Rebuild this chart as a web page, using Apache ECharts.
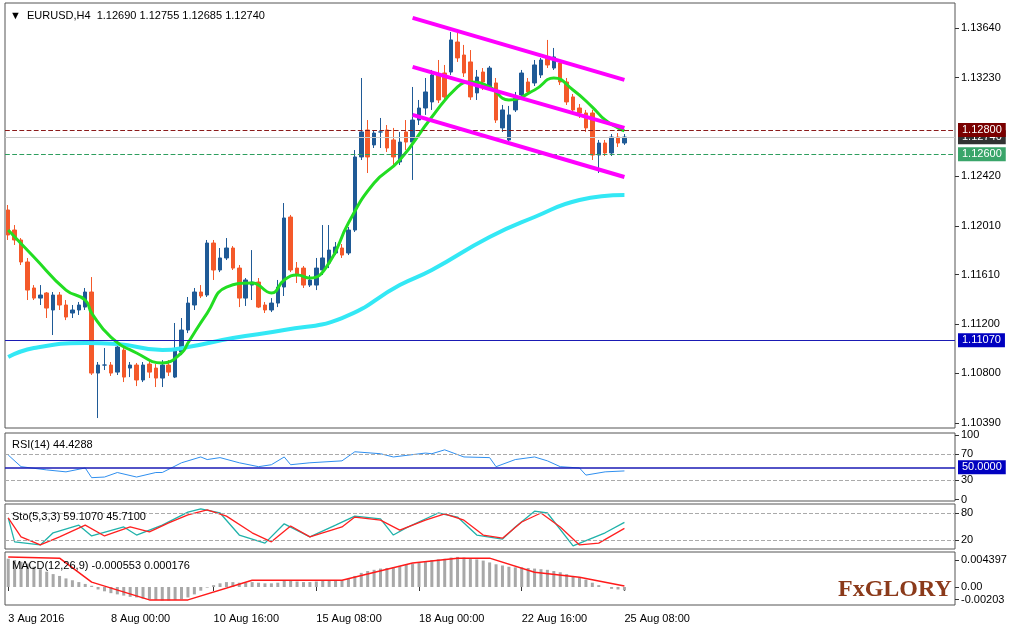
<!DOCTYPE html>
<html><head><meta charset="utf-8">
<script src="https://cdn.jsdelivr.net/npm/echarts@6/dist/echarts.min.js"></script>
<style>html,body{margin:0;padding:0;background:#fff}#c{width:1024px;height:636px}</style>
</head><body><div id="c"></div>
<script>
// ---- DATA ----
const tickLabels = ["3 Aug 2016","8 Aug 00:00","10 Aug 16:00","15 Aug 08:00","18 Aug 00:00","22 Aug 16:00","25 Aug 08:00"];
const tickIndex = [0,16,32,48,64,80,96];
const opens = [1.12142,1.11977,1.11895,1.11714,1.11500,1.11417,1.11459,1.11319,1.11442,1.11360,1.11294,1.11319,1.11343,1.11467,1.10800,1.10866,1.10866,1.10808,1.10989,1.10841,1.10866,1.10743,1.10874,1.10841,1.10759,1.10866,1.10767,1.10973,1.11154,1.11360,1.11467,1.11442,1.11870,1.11648,1.11747,1.11829,1.11664,1.11417,1.11524,1.11549,1.11360,1.11319,1.11376,1.11508,1.12084,1.11664,1.11664,1.11524,1.11524,1.11648,1.11706,1.11788,1.11829,1.11788,1.11977,1.12578,1.12800,1.12677,1.12784,1.12800,1.12718,1.12537,1.12784,1.12701,1.12882,1.12981,1.13031,1.13253,1.13269,1.13277,1.13524,1.13417,1.13360,1.13105,1.13277,1.13154,1.13187,1.12817,1.12718,1.12965,1.13088,1.13195,1.13187,1.13253,1.13393,1.13310,1.13352,1.13195,1.13072,1.12981,1.12940,1.12940,1.12594,1.12693,1.12611,1.12742,1.12693];
const closes = [1.11936,1.11895,1.11714,1.11483,1.11417,1.11442,1.11335,1.11442,1.11360,1.11261,1.11319,1.11360,1.11467,1.10800,1.10866,1.10866,1.10800,1.11014,1.10767,1.10866,1.10743,1.10866,1.10808,1.10759,1.10866,1.10808,1.10989,1.11154,1.11376,1.11467,1.11434,1.11870,1.11648,1.11747,1.11829,1.11664,1.11417,1.11566,1.11549,1.11343,1.11319,1.11376,1.11508,1.12076,1.11648,1.11607,1.11524,1.11566,1.11664,1.11747,1.11812,1.11837,1.11771,1.11977,1.12578,1.12784,1.12578,1.12775,1.12784,1.12652,1.12578,1.12701,1.12701,1.12882,1.12981,1.13113,1.13253,1.13047,1.13072,1.13541,1.13393,1.13269,1.13072,1.13236,1.13195,1.13310,1.12882,1.12965,1.12924,1.13063,1.13269,1.13113,1.13335,1.13376,1.13335,1.13401,1.13195,1.13031,1.12965,1.12940,1.12817,1.12594,1.12693,1.12611,1.12742,1.12693,1.12742];
const highs = [1.12183,1.12018,1.11911,1.11747,1.11524,1.11524,1.11467,1.11467,1.11467,1.11401,1.11360,1.11385,1.11500,1.11590,1.10891,1.11006,1.10891,1.11031,1.11006,1.10891,1.10883,1.10891,1.10907,1.10874,1.10907,1.10907,1.11212,1.11253,1.11426,1.11500,1.11524,1.11895,1.11895,1.11829,1.11911,1.11845,1.11689,1.11582,1.11812,1.11582,1.11385,1.11417,1.11566,1.12199,1.12101,1.11714,1.11681,1.11607,1.11747,1.12018,1.12018,1.11878,1.11862,1.12002,1.12635,1.13228,1.12882,1.12800,1.12899,1.12841,1.12817,1.12784,1.12882,1.13154,1.13047,1.13228,1.13294,1.13376,1.13335,1.13607,1.13623,1.13500,1.13458,1.13294,1.13310,1.13327,1.13228,1.13006,1.12998,1.13113,1.13294,1.13228,1.13376,1.13393,1.13541,1.13475,1.13376,1.13228,1.13096,1.13014,1.12965,1.12965,1.12718,1.12718,1.12767,1.12775,1.12767];
const lows = [1.11895,1.11854,1.11689,1.11401,1.11401,1.11360,1.11253,1.11113,1.11319,1.11236,1.11253,1.11278,1.11319,1.10784,1.10430,1.10825,1.10776,1.10784,1.10726,1.10767,1.10693,1.10726,1.10759,1.10685,1.10685,1.10776,1.10759,1.10948,1.11129,1.11319,1.11417,1.11426,1.11566,1.11631,1.11730,1.11648,1.11343,1.11352,1.11401,1.11335,1.11294,1.11302,1.11343,1.11434,1.11631,1.11541,1.11500,1.11508,1.11483,1.11607,1.11664,1.11771,1.11747,1.11771,1.11961,1.12553,1.12446,1.12652,1.12652,1.12619,1.12512,1.12512,1.12635,1.12389,1.12841,1.12924,1.12965,1.13022,1.13047,1.13253,1.13360,1.13236,1.13047,1.13047,1.13129,1.13129,1.12858,1.12784,1.12693,1.12948,1.13063,1.13088,1.13162,1.13228,1.13310,1.13294,1.13170,1.13006,1.12948,1.12899,1.12784,1.12553,1.12446,1.12586,1.12586,1.12660,1.12677];
const maFast = [[0,1.11977],[4,1.11755],[9,1.11483],[12,1.11401],[13,1.11294],[16,1.11096],[20,1.10965],[24,1.10883],[27,1.10965],[28,1.11047],[31,1.11294],[34,1.11508],[38,1.11541],[41,1.11459],[43,1.11566],[45,1.11607],[47,1.11582],[50,1.11706],[53,1.12035],[57,1.12364],[61,1.12553],[66,1.12907],[70,1.13154],[72,1.13195],[75,1.13154],[78,1.13047],[82,1.13129],[85,1.13228],[88,1.13129],[91,1.12989],[93,1.12882],[95,1.12817],[96,1.12792]];
const maSlow = [[0,1.10932],[4,1.11006],[12,1.11047],[17,1.11039],[24,1.10989],[28,1.11014],[35,1.11088],[43,1.11154],[52,1.11253],[61,1.11524],[66,1.11648],[75,1.11920],[82,1.12084],[89,1.12224],[96,1.12265]];
const chanUpper = [[63,1.13722],[96,1.13212]];
const chanMiddle = [[63,1.13319],[96,1.12817]];
const chanLower = [[63,1.12924],[96,1.12413]];
const priceTicks = [1.10390,1.10800,1.11200,1.11610,1.12010,1.12420,1.13230,1.13640];
const rsi = [[0,69],[2,51],[6,46],[9,43],[12,49],[13,34],[15,35],[17,42],[20,35],[23,42],[24,42],[27,57],[30,66],[31,62],[33,65],[36,57],[39,51],[41,54],[43,66],[44,54],[47,57],[52,60],[54,74],[58,71],[60,66],[65,72],[66,71],[68,77],[71,66],[75,65],[76,51],[79,62],[82,66],[84,60],[86,51],[89,49],[90,38],[93,43],[96,44.43]];
const stoMain = [[0,69],[1,16],[5,9],[7,36],[11,53],[13,29],[18,49],[20,31],[24,53],[28,82],[30,89],[33,80],[36,31],[40,13],[43,56],[47,27],[51,53],[54,73],[58,67],[60,31],[62,47],[67,80],[70,71],[73,31],[77,22],[79,49],[82,84],[84,80],[88,7],[93,36],[96,59.1]];
const stoSignal = [[0,69],[2,27],[5,9],[8,27],[12,53],[15,29],[19,49],[22,38],[25,58],[28,76],[31,87],[34,73],[38,36],[41,16],[44,51],[47,27],[52,49],[54,71],[58,64],[61,42],[65,64],[68,78],[71,64],[74,31],[77,24],[80,60],[83,80],[86,49],[89,9],[92,13],[96,45.7]];
const macdHist = [0.0046,0.0044,0.0041,0.0038,0.0033,0.0029,0.0025,0.0021,0.0018,0.0014,0.0011,0.0008,0.0005,0.0002,-0.0004,-0.0007,-0.0010,-0.0012,-0.0014,-0.0016,-0.0017,-0.0019,-0.0020,-0.0021,-0.0022,-0.0022,-0.0021,-0.0020,-0.0017,-0.0012,-0.0006,-0.0001,0.0003,0.0006,0.0008,0.0008,0.0007,0.0007,0.0008,0.0007,0.0006,0.0006,0.0007,0.0010,0.0010,0.0009,0.0008,0.0008,0.0009,0.0010,0.0011,0.0011,0.0011,0.0013,0.0018,0.0023,0.0026,0.0028,0.0030,0.0031,0.0032,0.0034,0.0036,0.0038,0.0040,0.0042,0.0044,0.0045,0.0046,0.0048,0.0049,0.0048,0.0046,0.0045,0.0043,0.0040,0.0037,0.0035,0.0033,0.0032,0.0032,0.0031,0.0030,0.0029,0.0028,0.0026,0.0024,0.0021,0.0018,0.0015,0.0012,0.0007,0.0003,0.0000,-0.0003,-0.0004,-0.00055];
const macdSignal = [[0,0.0049],[8,0.0047],[13,0.0008],[22,-0.0021],[28,-0.0021],[38,0.0011],[52,0.0011],[63,0.0039],[70,0.0047],[75,0.0047],[82,0.0024],[89,0.0016],[96,0.000176]];
const levels = [
  {v:1.12740, color:'#c8c8c8', type:'solid', bg:'#333333'},
  {v:1.12800, color:'#8b1a1a', type:'dashed', bg:'#7a0000'},
  {v:1.12600, color:'#2e9e5e', type:'dashed', bg:'#3aa56a'},
  {v:1.11070, color:'#1a1ab4', type:'solid', bg:'#0000c0'}
];

// ---- CHART ----
const N = 148;
const cats = [];
for (let i = 0; i < N; i++) { const k = tickIndex.indexOf(i); cats.push(k >= 0 ? tickLabels[k] : ''); }
const ohlc = opens.map((o, i) => [o, closes[i], lows[i], highs[i]]);
const F = 'Liberation Sans';
const grids = [
  {left:5,right:69,top:3,height:425},
  {left:5,right:69,top:433,height:68},
  {left:5,right:69,top:504,height:45},
  {left:5,right:69,top:552,height:53}
].map(g => Object.assign({show:true,borderColor:'#555',borderWidth:1,backgroundColor:'#fff'}, g));
const xAxes = grids.map((g, k) => ({
  type:'category', gridIndex:k, data:cats, boundaryGap:true,
  axisLine:{show:false}, splitLine:{show:false},
  axisTick:{show:k===3, interval:(i)=>tickIndex.includes(i), length:4, lineStyle:{color:'#333'}, alignWithLabel:true},
  axisLabel:{show:k===3, interval:(i)=>tickIndex.includes(i), align:'left', color:'#000', fontFamily:F, fontSize:11, margin:8}
}));
const yBase = {position:'right', axisLine:{show:false}, splitLine:{show:false},
  axisTick:{show:true,length:4,lineStyle:{color:'#333'}},
  axisLabel:{color:'#000', fontFamily:F, fontSize:11, margin:6, hideOverlap:false}};
const yAxes = [
  Object.assign({}, yBase, {type:'value', gridIndex:0, min:1.10348, max:1.13845,
    axisTick:Object.assign({}, yBase.axisTick, {customValues:priceTicks}),
    axisLabel:Object.assign({}, yBase.axisLabel, {customValues:priceTicks, formatter:v=>v.toFixed(5)})}),
  Object.assign({}, yBase, {type:'value', gridIndex:1, min:-2, max:103,
    axisTick:Object.assign({}, yBase.axisTick, {customValues:[0,30,70,100]}),
    axisLabel:Object.assign({}, yBase.axisLabel, {customValues:[0,30,70,100]})}),
  Object.assign({}, yBase, {type:'value', gridIndex:2, min:0, max:100,
    axisTick:Object.assign({}, yBase.axisTick, {customValues:[0,20,80,100]}),
    axisLabel:Object.assign({}, yBase.axisLabel, {customValues:[0,20,80,100]})}),
  Object.assign({}, yBase, {type:'value', gridIndex:3, min:-0.00293, max:0.0057,
    axisTick:Object.assign({}, yBase.axisTick, {customValues:[-0.00203,0,0.004397]}),
    axisLabel:Object.assign({}, yBase.axisLabel, {customValues:[-0.00203,0,0.004397], formatter:v=>v===0?'0.00':String(v)})})
];
const lbl = (t, bg) => ({show:true, position:'end', formatter:t, color:'#fff', backgroundColor:bg, padding:[2,4,1,4], fontFamily:F, fontSize:11, distance:3});
const chanStyle = {color:'#FF00FF', width:4};
const series = [
  {type:'candlestick', xAxisIndex:0, yAxisIndex:0, data:ohlc, barWidth:4,
   itemStyle:{color:'#1f5a96', color0:'#f4592a', borderColor:'#1f5a96', borderColor0:'#f4592a', borderWidth:1}},
  {type:'line', xAxisIndex:0, yAxisIndex:0, data:maSlow, smooth:true, symbol:'none', lineStyle:{color:'#33e8f5', width:4}, z:3,
   markLine:{symbol:'none', silent:true, animation:false, precision:5,
     data:levels.map(l => ({yAxis:l.v, lineStyle:{color:l.color, type:l.type, width:1.2}, label:lbl(l.v.toFixed(5), l.bg)}))}},
  {type:'line', xAxisIndex:0, yAxisIndex:0, data:maFast, smooth:true, symbol:'none', lineStyle:{color:'#22dd22', width:3}, z:4},
  {type:'line', xAxisIndex:0, yAxisIndex:0, data:chanUpper, symbol:'none', lineStyle:chanStyle, z:5},
  {type:'line', xAxisIndex:0, yAxisIndex:0, data:chanMiddle, symbol:'none', lineStyle:chanStyle, z:5},
  {type:'line', xAxisIndex:0, yAxisIndex:0, data:chanLower, symbol:'none', lineStyle:chanStyle, z:5},
  {type:'line', xAxisIndex:1, yAxisIndex:1, data:rsi, symbol:'none', lineStyle:{color:'#2f8fef', width:1},
   markLine:{symbol:'none', silent:true, animation:false, data:[
     {yAxis:70, lineStyle:{color:'#aaa', type:'dashed'}, label:{show:false}},
     {yAxis:30, lineStyle:{color:'#aaa', type:'dashed'}, label:{show:false}},
     {yAxis:50, lineStyle:{color:'#1a1ab4', type:'solid', width:1.5}, label:lbl('50.0000','#0000c0')}]}},
  {type:'line', xAxisIndex:2, yAxisIndex:2, data:stoMain, symbol:'none', lineStyle:{color:'#20b2aa', width:1.3},
   markLine:{symbol:'none', silent:true, animation:false, data:[
     {yAxis:80, lineStyle:{color:'#aaa', type:'dashed'}, label:{show:false}},
     {yAxis:20, lineStyle:{color:'#aaa', type:'dashed'}, label:{show:false}}]}},
  {type:'line', xAxisIndex:2, yAxisIndex:2, data:stoSignal, symbol:'none', lineStyle:{color:'#ff2020', width:1.3}},
  {type:'bar', xAxisIndex:3, yAxisIndex:3, data:macdHist, barWidth:3, itemStyle:{color:'#a8a8a8'}},
  {type:'line', xAxisIndex:3, yAxisIndex:3, data:macdSignal, symbol:'none', lineStyle:{color:'#ff1a1a', width:1.5}, z:4}
];
const txt = (x, y, t, extra) => ({type:'text', left:x, top:y, z:100, style:Object.assign({text:t, fill:'#000', font:'11px "Liberation Sans"'}, extra||{})});
const chart = echarts.init(document.getElementById('c'), null, {renderer:'canvas'});
chart.setOption({
  animation:false, backgroundColor:'#fff',
  grid:grids, xAxis:xAxes, yAxis:yAxes, series:series,
  graphic:[
    txt(10, 10, '▼  EURUSD,H4  1.12690 1.12755 1.12685 1.12740'),
    txt(12, 439, 'RSI(14) 44.4288'),
    txt(12, 511, 'Sto(5,3,3) 59.1070 45.7100'),
    txt(12, 560, 'MACD(12,26,9) -0.000553 0.000176'),
    txt(838, 578, 'FxGLORY', {fill:'#8b3a1a', font:'bold 24px "Liberation Serif"'})
  ]
});
</script></body></html>
